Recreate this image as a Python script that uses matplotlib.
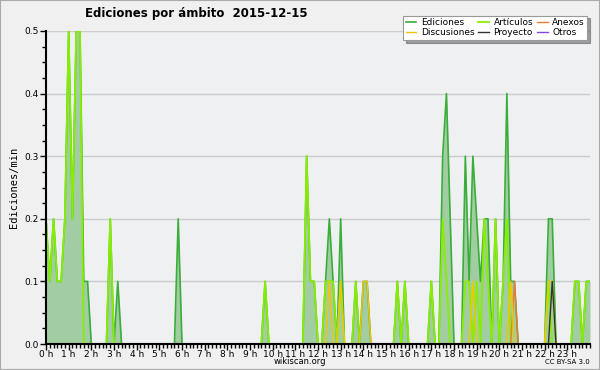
import matplotlib
matplotlib.use("Agg")
import matplotlib.pyplot as plt
import numpy as np
from matplotlib.ticker import MultipleLocator, FormatStrFormatter

# edits per minute, 10 minute bins from 0 h to 24 h
ediciones = [0.2, 0.1, 0.2, 0.1, 0.1, 0.2, 0.5, 0.2, 0.5, 0.5,
             0.1, 0.1, 0, 0, 0, 0, 0, 0.2, 0, 0.1,
             0, 0, 0, 0, 0, 0, 0, 0, 0, 0,
             0, 0, 0, 0, 0, 0.2, 0, 0, 0, 0,
             0, 0, 0, 0, 0, 0, 0, 0, 0, 0,
             0, 0, 0, 0, 0, 0, 0, 0, 0.1, 0,
             0, 0, 0, 0, 0, 0, 0, 0, 0, 0.3,
             0.1, 0.1, 0, 0, 0.1, 0.2, 0.1, 0, 0.2, 0,
             0, 0, 0.1, 0, 0.1, 0.1, 0, 0, 0, 0,
             0, 0, 0, 0.1, 0, 0.1, 0, 0, 0, 0,
             0, 0, 0.1, 0, 0, 0.3, 0.4, 0.2, 0, 0,
             0, 0.3, 0.1, 0.3, 0.2, 0.1, 0.2, 0.2, 0, 0.2,
             0, 0.1, 0.4, 0.1, 0.1, 0, 0, 0, 0, 0,
             0, 0, 0, 0.2, 0.2, 0, 0, 0, 0, 0,
             0.1, 0.1, 0, 0.1, 0.1]
articulos = [0.2, 0.1, 0.2, 0.1, 0.1, 0.2, 0.5, 0.2, 0.5, 0.5,
             0, 0, 0, 0, 0, 0, 0, 0.2, 0, 0,
             0, 0, 0, 0, 0, 0, 0, 0, 0, 0,
             0, 0, 0, 0, 0, 0, 0, 0, 0, 0,
             0, 0, 0, 0, 0, 0, 0, 0, 0, 0,
             0, 0, 0, 0, 0, 0, 0, 0, 0.1, 0,
             0, 0, 0, 0, 0, 0, 0, 0, 0, 0.3,
             0.1, 0.1, 0, 0, 0.1, 0.1, 0.1, 0, 0.1, 0,
             0, 0, 0.1, 0, 0, 0, 0, 0, 0, 0,
             0, 0, 0, 0.1, 0, 0.1, 0, 0, 0, 0,
             0, 0, 0.1, 0, 0, 0.2, 0.1, 0, 0, 0,
             0, 0.1, 0.1, 0, 0.1, 0, 0.2, 0.1, 0, 0.2,
             0, 0.1, 0.2, 0, 0, 0, 0, 0, 0, 0,
             0, 0, 0, 0.1, 0, 0, 0, 0, 0, 0,
             0.1, 0.1, 0, 0.1, 0.1]
n = len(ediciones)
anexos = [0] * n
anexos[124] = 0.1
discusiones = [0] * n
for i in [75, 78, 84, 85, 113, 123, 133, 134]:
    discusiones[i] = 0.1
proyecto = [0] * n
proyecto[134] = 0.1
otros = [0] * n

horas = np.arange(n) / 6.0
hour_labels = ["%d h" % h for h in range(24)]

fig = plt.figure(figsize=(6, 3.7), dpi=100, facecolor="#f0f0f0")
ax = fig.add_axes([46/600, 1 - 344/370, 544/600, 313/370])
ax.set_facecolor("#eef0f2")

ax.fill_between(horas, ediciones, color="#a2cda2", lw=0, zorder=2)
ax.plot(horas, ediciones, color="#3aae3a", lw=1.2, zorder=3)
ax.plot(horas, articulos, color="#88ee00", lw=1.3, zorder=4)
ax.plot(horas, anexos, color="#f07a30", lw=1, zorder=4)
ax.plot(horas, discusiones, color="#f5c400", lw=1, zorder=5)
ax.plot(horas, proyecto, color="#333333", lw=1, zorder=6)
ax.plot(horas, otros, color="#8844ee", lw=1, zorder=1)

ax.set_xlim(0, 24)
ax.set_ylim(0, 0.5)
ax.set_xticks(range(24))
ax.set_xticklabels(hour_labels, fontsize=6.5)
ax.xaxis.set_minor_locator(MultipleLocator(1/6))
ax.yaxis.set_major_locator(MultipleLocator(0.1))
ax.yaxis.set_minor_locator(MultipleLocator(0.025))
ax.yaxis.set_major_formatter(FormatStrFormatter("%.1f"))
ax.tick_params(axis="y", labelsize=6.5)
ax.tick_params(axis="both", which="major", length=4, width=1, pad=1)
ax.tick_params(axis="x", which="major", pad=0)
ax.tick_params(axis="both", which="minor", length=3, width=1)
ax.grid(axis="y", color="#cccccc", lw=1, zorder=0)
ax.set_axisbelow(True)
for s in ["top", "right"]:
    ax.spines[s].set_visible(False)
for s in ["left", "bottom"]:
    ax.spines[s].set_linewidth(1.5)
    ax.spines[s].set_zorder(10)
ax.set_ylabel("Ediciones/min", fontsize=7.5, family="DejaVu Sans Mono", labelpad=4)

fig.text(85/600, 1 - 14/370, "Ediciones por ámbito  2015-12-15", fontsize=8.5,
         fontweight="bold", va="center", ha="left")

handles = ax.get_lines()
names = ["Ediciones", "Artículos", "Anexos", "Discusiones", "Proyecto", "Otros"]
order = [0, 3, 1, 4, 2, 5]
leg = fig.legend([handles[i] for i in order], [names[i] for i in order], ncol=3,
                 loc="upper right", bbox_to_anchor=(592/600, 1 - 11/370),
                 fontsize=6.5, frameon=True, fancybox=False, shadow=True,
                 handlelength=1.2, handletextpad=0.5, columnspacing=0.4,
                 labelspacing=0.1, borderpad=0.3)
leg.get_frame().set_edgecolor("#999999")
leg.get_frame().set_linewidth(0.8)

fig.text(300/600, 1 - 362/370, "wikiscan.org", fontsize=6, ha="center", va="center")
fig.text(590/600, 1 - 362/370, "CC BY-SA 3.0", fontsize=5, ha="right", va="center")

border = plt.Rectangle((0, 0), 1, 1, transform=fig.transFigure, fill=False,
                       edgecolor="#aaaaaa", lw=1.5)
fig.patches.append(border)

fig.savefig("out.png", dpi=100, facecolor=fig.get_facecolor())
